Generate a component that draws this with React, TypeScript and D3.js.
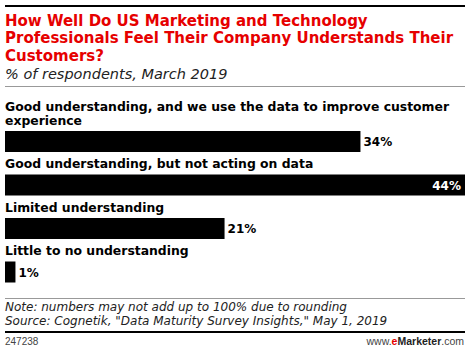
import React from "react";
import * as d3 from "d3";

const categories: string[][] = [
  ["Good understanding, and we use the data to improve customer", "experience"],
  ["Good understanding, but not acting on data"],
  ["Limited understanding"],
  ["Little to no understanding"],
];
const values: number[] = [34, 44, 21, 1];
const titleLines = [
  "How Well Do US Marketing and Technology",
  "Professionals Feel Their Company Understands Their",
  "Customers?",
];
const subtitle = "% of respondents, March 2019";
const notes = [
  "Note: numbers may not add up to 100% due to rounding",
  'Source: Cognetik, "Data Maturity Survey Insights," May 1, 2019',
];
const chartId = "247238";

const W = 470;
const H = 354;
const BOLD = "'DejaVu Sans', sans-serif";
const ITAL = "'DejaVu Sans', sans-serif";
const PLAIN = "'Liberation Sans', Arial, sans-serif";

export default function App() {
  const x = d3.scaleLinear().domain([0, 44]).range([5, 465]);
  const idx = categories.map((_, i) => String(i));
  const step = 43.5;
  const bandH = 21;
  const y = d3
    .scaleBand<string>()
    .domain(idx)
    .range([131, 131 + 3 * step + bandH])
    .paddingInner((step - bandH) / step)
    .paddingOuter(0);
  const bw = y.bandwidth();

  return (
    <svg
      width={W}
      height={H}
      style={{ position: "absolute", left: 0, top: 0, background: "#fff" }}
    >
      <rect x={0} y={0} width={W} height={H} fill="#fff" />
      <rect x={5} y={5} width={460} height={2} fill="#000" />
      {titleLines.map((t, i) => (
        <text key={i} x={5} y={25.8 + i * 17.6} fontFamily={BOLD} fontSize={15} fontWeight="bold" fill="#e60000">
          {t}
        </text>
      ))}
      <text x={5} y={79} fontFamily={ITAL} fontSize={14.5} fontStyle="italic" fill="#222">
        {subtitle}
      </text>
      <rect x={5} y={86} width={460} height={1} fill="#999" />

      {categories.map((lines, i) => {
        const top = y(String(i))!;
        const v = values[i];
        const inside = v === d3.max(values);
        return (
          <g key={i}>
            {lines.map((ln, j) => (
              <text
                key={j}
                x={5}
                y={top - 6.5 - (lines.length - 1 - j) * 14}
                fontFamily={BOLD}
                fontSize={12.4}
                fontWeight="bold"
                fill="#000"
              >
                {ln}
              </text>
            ))}
            <rect x={x(0)} y={top} width={x(v) - x(0)} height={bw} fill="#000" />
            <text
              x={inside ? x(v) - 4 : x(v) + 3}
              y={top + bw / 2 + 4.5}
              fontFamily={BOLD}
              fontSize={12}
              fontWeight="bold"
              textAnchor={inside ? "end" : "start"}
              fill={inside ? "#fff" : "#000"}
            >
              {v}%
            </text>
          </g>
        );
      })}

      <rect x={5} y={298} width={460} height={1} fill="#999" />
      {notes.map((n, i) => (
        <text key={i} x={5} y={311 + i * 14} fontFamily={ITAL} fontSize={12} fontStyle="italic" fill="#222">
          {n}
        </text>
      ))}
      <rect x={5} y={331} width={460} height={2} fill="#000" />
      <text x={5} y={345} fontFamily={PLAIN} fontSize={10} fill="#444">
        {chartId}
      </text>
      <text x={464} y={345} fontFamily={PLAIN} fontSize={10.5} textAnchor="end" fill="#444">
        www.<tspan fill="#e60000" fontWeight="bold">e</tspan>
        <tspan fontWeight="bold" fill="#222">Marketer</tspan>.com
      </text>
    </svg>
  );
}
